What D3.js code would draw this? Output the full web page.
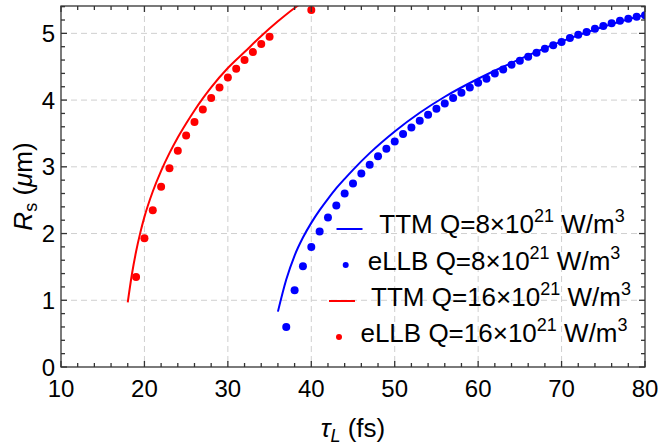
<!DOCTYPE html>
<html>
<head>
<meta charset="utf-8">
<script src="https://cdn.jsdelivr.net/npm/d3@7"></script>
<style>
  html, body { margin: 0; padding: 0; background: #fff; }
  svg { display: block; }
  text { font-family: "Liberation Sans", Arial, sans-serif; fill: #000; }
</style>
</head>
<body>
<svg id="chart" width="659" height="445"></svg>
<script>
// ---------------- data ----------------
const xTickValues = [10, 20, 30, 40, 50, 60, 70, 80];
const yTickValues = [0, 1, 2, 3, 4, 5];

// TTM Q=8e21 (blue line)
const ttm8Tau = [36, 37, 38, 39, 40, 41, 42, 43, 44, 45, 47, 50, 53, 56, 60, 63, 66, 70, 75, 80];
const ttm8R   = [0.83, 1.31, 1.67, 1.94, 2.16, 2.35, 2.52, 2.68, 2.82, 2.955, 3.205, 3.53, 3.81, 4.05, 4.32, 4.50, 4.67, 4.88, 5.10, 5.28];

// eLLB Q=8e21 (blue dots)
const ellb8Tau = [37, 38, 39, 40, 41, 42, 43, 44, 45, 46, 47, 48, 49, 50, 51, 52, 53, 54, 55, 56, 57, 58,
                  59, 60, 61, 62, 63, 64, 65, 66, 67, 68, 69, 70, 71, 72, 73, 74, 75, 76, 77, 78, 79, 80];
const ellb8R   = [0.60, 1.15, 1.51, 1.80, 2.03, 2.24, 2.42, 2.60, 2.75, 2.90, 3.03, 3.16, 3.27, 3.38, 3.49, 3.59,
                  3.69, 3.78, 3.87, 3.95, 4.03, 4.11, 4.19, 4.26, 4.32, 4.40, 4.46, 4.53, 4.59, 4.65, 4.71, 4.77,
                  4.82, 4.87, 4.93, 4.98, 5.02, 5.07, 5.11, 5.15, 5.19, 5.22, 5.25, 5.27];

// TTM Q=16e21 (red line)
const ttm16Tau = [18, 18.5, 19, 19.5, 20, 21, 22, 23, 24, 25, 26, 27, 28, 30, 32, 34, 36, 38, 39];
const ttm16R   = [0.97, 1.39, 1.73, 2.01, 2.25, 2.63, 2.94, 3.205, 3.44, 3.65, 3.845, 4.025, 4.19, 4.48, 4.72, 4.96, 5.18, 5.38, 5.47];

// eLLB Q=16e21 (red dots)
const ellb16Tau = [19, 20, 21, 22, 23, 24, 25, 26, 27, 28, 29, 30, 31, 32, 33, 34, 35, 40];
const ellb16R   = [1.35, 1.93, 2.35, 2.70, 2.98, 3.24, 3.47, 3.67, 3.86, 4.03, 4.19, 4.34, 4.47, 4.60, 4.72, 4.84, 4.95, 5.35];

const seriesNames = ["TTM Q=8×10", "eLLB Q=8×10", "TTM Q=16×10", "eLLB Q=16×10"];
const seriesColors = ["#0000ff", "#0000ff", "#ff0000", "#ff0000"];

// ---------------- layout ----------------
const svg = d3.select("#chart");
const L = 61, R = 645, T = 6, B = 367;
const x = d3.scaleLinear().domain([10, 80]).range([L, R]);
const y = d3.scaleLinear().domain([0, 5.41]).range([B, T]);

svg.append("defs").append("clipPath").attr("id", "plotclip")
  .append("rect").attr("x", L).attr("y", T).attr("width", R - L).attr("height", B - T);

// grid
const grid = svg.append("g").attr("stroke", "#cfcfcf").attr("stroke-width", 1).attr("stroke-dasharray", "6,4");
grid.selectAll("line.gx").data(xTickValues.filter(d => d > 10 && d < 80)).join("line")
  .attr("x1", d => x(d)).attr("x2", d => x(d)).attr("y1", T).attr("y2", B);
grid.selectAll("line.gy").data(yTickValues.filter(d => d > 0)).join("line")
  .attr("y1", d => y(d)).attr("y2", d => y(d)).attr("x1", L).attr("x2", R);

// series
const plot = svg.append("g").attr("clip-path", "url(#plotclip)");
const line = d3.line().x(d => x(d[0])).y(d => y(d[1])).curve(d3.curveMonotoneX);

plot.append("path").datum(d3.zip(ttm8Tau, ttm8R)).attr("d", line)
  .attr("fill", "none").attr("stroke", seriesColors[0]).attr("stroke-width", 2);
plot.append("path").datum(d3.zip(ttm16Tau, ttm16R)).attr("d", line)
  .attr("fill", "none").attr("stroke", seriesColors[2]).attr("stroke-width", 2);

plot.append("g").selectAll("circle").data(d3.zip(ellb8Tau, ellb8R)).join("circle")
  .attr("cx", d => x(d[0])).attr("cy", d => y(d[1])).attr("r", 4).attr("fill", seriesColors[1]);
plot.append("g").selectAll("circle").data(d3.zip(ellb16Tau, ellb16R)).join("circle")
  .attr("cx", d => x(d[0])).attr("cy", d => y(d[1])).attr("r", 4).attr("fill", seriesColors[3]);

// frame + ticks
const axisColor = "#333";
const frame = svg.append("g").attr("stroke", axisColor).attr("stroke-width", 1.3);
frame.append("rect").attr("x", L).attr("y", T).attr("width", R - L).attr("height", B - T).attr("fill", "none");

const xMinor = d3.range(10, 80.001, 2);
const yMinor = d3.range(0, 5.41, 0.2);
const isMajorX = v => Math.abs(v / 10 - Math.round(v / 10)) < 1e-6;
const isMajorY = v => Math.abs(v - Math.round(v)) < 1e-6;

frame.selectAll("line.xb").data(xMinor).join("line")
  .attr("x1", d => x(d)).attr("x2", d => x(d))
  .attr("y1", B).attr("y2", d => B - (isMajorX(d) ? 6 : 4));
frame.selectAll("line.xt").data(xMinor).join("line")
  .attr("x1", d => x(d)).attr("x2", d => x(d))
  .attr("y1", T).attr("y2", d => T + (isMajorX(d) ? 6 : 4));
frame.selectAll("line.yl").data(yMinor).join("line")
  .attr("y1", d => y(d)).attr("y2", d => y(d))
  .attr("x1", L).attr("x2", d => L + (isMajorY(d) ? 6 : 4));
frame.selectAll("line.yr").data(yMinor).join("line")
  .attr("y1", d => y(d)).attr("y2", d => y(d))
  .attr("x1", R).attr("x2", d => R - (isMajorY(d) ? 6 : 4));

// tick labels
svg.append("g").selectAll("text").data(xTickValues).join("text")
  .attr("x", d => x(d)).attr("y", 397).attr("text-anchor", "middle")
  .attr("font-size", 24).text(d => d);
svg.append("g").selectAll("text").data(yTickValues).join("text")
  .attr("x", 55).attr("y", d => y(d)).attr("dy", "0.36em").attr("text-anchor", "end")
  .attr("font-size", 24).text(d => d);

// axis titles
const xt = svg.append("text").attr("x", (L + R) / 2).attr("y", 437).attr("text-anchor", "middle").attr("font-size", 26);
xt.append("tspan").attr("font-style", "italic").text("τ");
xt.append("tspan").attr("font-style", "italic").attr("font-size", 18).attr("dy", 5).text("L");
xt.append("tspan").attr("dy", -5).text(" (fs)");

const yt = svg.append("text").attr("transform", `translate(32,${(T + B) / 2}) rotate(-90)`)
  .attr("text-anchor", "middle").attr("font-size", 26);
yt.append("tspan").attr("font-style", "italic").text("R");
yt.append("tspan").attr("font-size", 18).attr("dy", 5).text("s");
yt.append("tspan").attr("dy", -5).text(" (");
yt.append("tspan").attr("font-style", "italic").text("μ");
yt.append("tspan").text("m)");

// legend
const legendRows = [
  { sym: "line", sx: 349.5, sy: 229, tx: 502, ty: 233 },
  { sym: "dot",  sx: 345.7, sy: 265, tx: 494, ty: 270 },
  { sym: "line", sx: 342,   sy: 301, tx: 501, ty: 306 },
  { sym: "dot",  sx: 339,   sy: 337, tx: 494, ty: 342 }
];
const lg = svg.append("g");
legendRows.forEach((r, i) => {
  if (r.sym === "line") {
    lg.append("line").attr("x1", r.sx - 13).attr("x2", r.sx + 13).attr("y1", r.sy).attr("y2", r.sy)
      .attr("stroke", seriesColors[i]).attr("stroke-width", 2);
  } else {
    lg.append("circle").attr("cx", r.sx).attr("cy", r.sy).attr("r", 3).attr("fill", seriesColors[i]);
  }
  const t = lg.append("text").attr("x", r.tx).attr("y", r.ty).attr("text-anchor", "middle").attr("font-size", 26);
  t.append("tspan").text(seriesNames[i]);
  t.append("tspan").attr("font-size", 18).attr("dy", -11).text("21");
  t.append("tspan").attr("dy", 11).text(" W/m");
  t.append("tspan").attr("font-size", 18).attr("dy", -11).text("3");
});
</script>
</body>
</html>
